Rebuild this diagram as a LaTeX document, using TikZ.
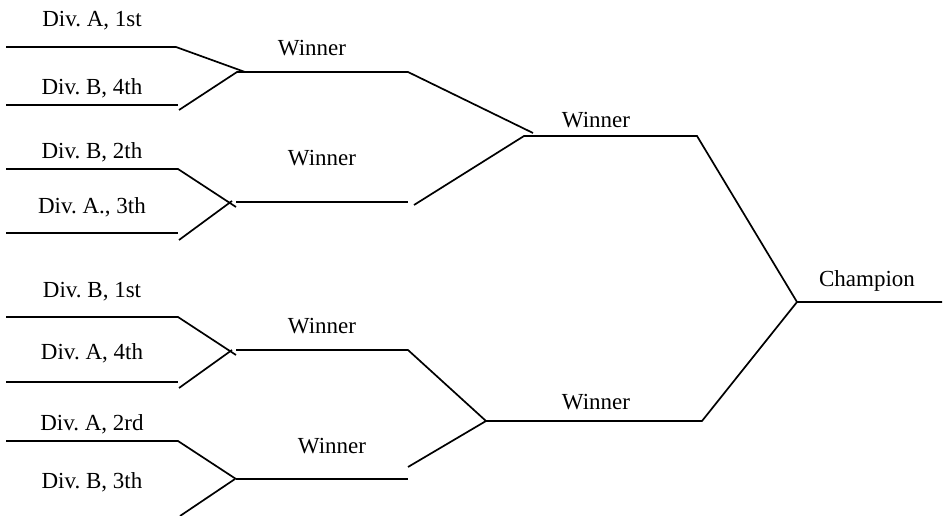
\documentclass[tikz,border=0pt]{standalone}
\usepackage{fontspec}
\setmainfont{Liberation Serif}
\frenchspacing
\tikzset{
  bline/.style={draw=black, line width=1.7pt, line join=miter},
  lbl/.style={font=\fontsize{23}{27}\selectfont, anchor=base, inner sep=0pt}
}
\begin{document}
\begin{tikzpicture}[x=1pt,y=-1pt]
\useasboundingbox (0,0) rectangle (948,516);
% first round slots
\coordinate (p1a) at (6,47);   \coordinate (p1b) at (176,47);  \coordinate (j1a) at (245,72);
\coordinate (p2a) at (6,105);  \coordinate (p2b) at (178,105); \coordinate (p2c) at (179,110);
\coordinate (p3a) at (6,169);  \coordinate (p3b) at (178,169); \coordinate (j2a) at (236,207);
\coordinate (p4a) at (6,233);  \coordinate (p4b) at (178,233); \coordinate (p4c) at (179,240);
\coordinate (j2b) at (232,201);
\coordinate (p5a) at (6,317);  \coordinate (p5b) at (178,317); \coordinate (j3a) at (236,355);
\coordinate (p6a) at (6,382);  \coordinate (p6b) at (178,382); \coordinate (p6c) at (179,388);
\coordinate (j3b) at (232,350);
\coordinate (p7a) at (6,441);  \coordinate (p7b) at (178,441); \coordinate (j4a) at (236,479);
\coordinate (p8c) at (180,516); \coordinate (j4b) at (235,479);
% second round
\coordinate (w1a) at (237,72);  \coordinate (w1b) at (408,72);  \coordinate (s1in) at (533,133);
\coordinate (w2a) at (236,202); \coordinate (w2b) at (408,202); \coordinate (w2c) at (414,205);
\coordinate (w3a) at (236,350); \coordinate (w3b) at (408,350);
\coordinate (w4a) at (236,479); \coordinate (w4b) at (408,479); \coordinate (w4c) at (408,467);
% semi finals and final
\coordinate (s1a) at (524,136); \coordinate (s1b) at (697,136);
\coordinate (s2a) at (486,421); \coordinate (s2b) at (702,421);
\coordinate (ch) at (797,302);  \coordinate (chb) at (942,302);

\draw[bline] (p1a) -- (p1b) -- (j1a);
\draw[bline] (p2a) -- (p2b);
\draw[bline] (p2c) -- (w1a) -- (w1b) -- (s1in);
\draw[bline] (p3a) -- (p3b) -- (j2a);
\draw[bline] (p4a) -- (p4b);
\draw[bline] (p4c) -- (j2b);
\draw[bline] (w2a) -- (w2b);
\draw[bline] (w2c) -- (s1a) -- (s1b) -- (ch) -- (chb);
\draw[bline] (p5a) -- (p5b) -- (j3a);
\draw[bline] (p6a) -- (p6b);
\draw[bline] (p6c) -- (j3b);
\draw[bline] (w3a) -- (w3b) -- (s2a) -- (s2b) -- (ch);
\draw[bline] (p7a) -- (p7b) -- (j4a);
\draw[bline] (p8c) -- (j4b);
\draw[bline] (w4a) -- (w4b);
\draw[bline] (w4c) -- (s2a);

% labels
\node[lbl] (t1) at (92,27)  {Div. A, 1st};
\node[lbl] (t2) at (92,95)  {Div. B, 4th};
\node[lbl] (t3) at (92,158) {Div. B, 2th};
\node[lbl] (t4) at (92,213) {Div. A., 3th};
\node[lbl] (t5) at (92,297) {Div. B, 1st};
\node[lbl] (t6) at (92,359) {Div. A, 4th};
\node[lbl] (t7) at (92,430) {Div. A, 2rd};
\node[lbl] (t8) at (92,488) {Div. B, 3th};
\node[lbl] (r1) at (312,56)  {Winner};
\node[lbl] (r2) at (322,166) {Winner};
\node[lbl] (r3) at (322,333) {Winner};
\node[lbl] (r4) at (332,453) {Winner};
\node[lbl] (sf1) at (596,128) {Winner};
\node[lbl] (sf2) at (596,409) {Winner};
\node[lbl] (chl) at (867,286) {Champion};
\end{tikzpicture}
\end{document}
